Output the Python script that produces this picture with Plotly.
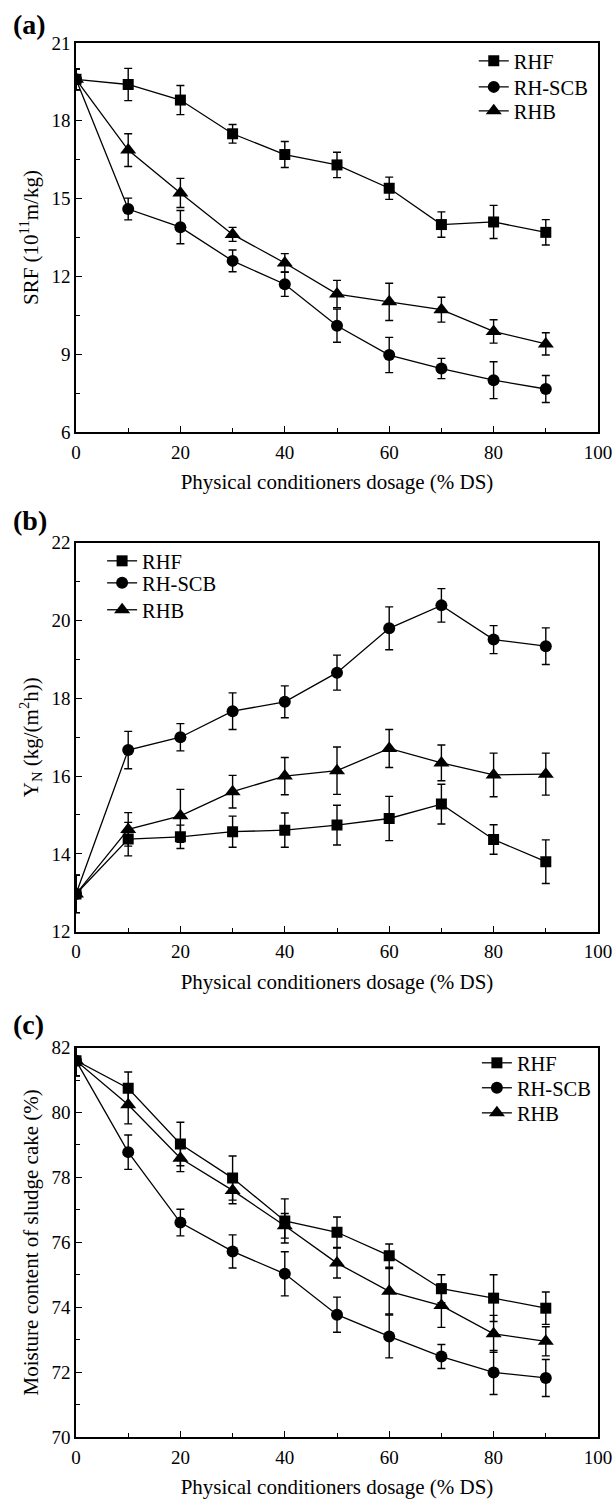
import plotly.graph_objects as go

dosage = [0, 10, 20, 30, 40, 50, 60, 70, 80, 90]
series_names = ["RHF", "RH-SCB", "RHB"]

# (a) SRF (10^11 m/kg)
srf_rhf = [19.6, 19.4, 18.8, 17.5, 16.7, 16.3, 15.4, 14.0, 14.1, 13.7]
srf_rhf_err = [0.4, 0.62, 0.56, 0.36, 0.5, 0.49, 0.43, 0.49, 0.64, 0.49]
srf_scb = [19.6, 14.6, 13.9, 12.6, 11.7, 10.1, 8.97, 8.45, 8.0, 7.66]
srf_scb_err = [0.4, 0.42, 0.64, 0.42, 0.47, 0.64, 0.68, 0.39, 0.71, 0.52]
srf_rhb = [19.6, 16.87, 15.22, 13.62, 12.52, 11.32, 11.02, 10.72, 9.88, 9.4]
srf_rhb_err = [0.4, 0.63, 0.56, 0.27, 0.36, 0.53, 0.72, 0.48, 0.45, 0.43]

# (b) Y_N (kg/(m2 h))
yn_rhf = [12.97, 14.38, 14.44, 14.57, 14.61, 14.74, 14.91, 15.28, 14.37, 13.8]
yn_rhf_err = [0.48, 0.43, 0.3, 0.4, 0.44, 0.51, 0.57, 0.51, 0.38, 0.56]
yn_scb = [12.97, 16.67, 17.0, 17.67, 17.91, 18.66, 19.8, 20.39, 19.51, 19.34]
yn_scb_err = [0.48, 0.48, 0.35, 0.47, 0.41, 0.45, 0.55, 0.43, 0.36, 0.47]
yn_rhb = [12.97, 14.63, 14.98, 15.6, 16.0, 16.14, 16.71, 16.34, 16.03, 16.05]
yn_rhb_err = [0.48, 0.43, 0.68, 0.42, 0.48, 0.61, 0.49, 0.46, 0.56, 0.54]

# (c) Moisture content of sludge cake (%)
mc_rhf = [81.6, 80.75, 79.03, 77.98, 76.66, 76.31, 75.59, 74.57, 74.28, 73.97]
mc_rhf_err = [0.47, 0.5, 0.67, 0.68, 0.68, 0.47, 0.36, 0.43, 0.72, 0.5]
mc_scb = [81.6, 78.78, 76.61, 75.72, 75.03, 73.77, 73.1, 72.48, 71.99, 71.82]
mc_scb_err = [0.47, 0.53, 0.41, 0.51, 0.68, 0.54, 0.66, 0.37, 0.68, 0.57]
mc_rhb = [81.6, 80.24, 78.59, 77.6, 76.51, 75.36, 74.49, 74.05, 73.18, 72.95]
mc_rhb_err = [0.47, 0.59, 0.41, 0.41, 0.38, 0.46, 0.7, 0.67, 0.57, 0.45]

x_title = "Physical conditioners dosage (% DS)"
panel_labels = ["(a)", "(b)", "(c)"]
y_titles = ["SRF (10<sup>11</sup>m/kg)", "Y<sub>N</sub> (kg/(m<sup>2</sup>h))",
            "Moisture content of sludge cake (%)"]

FONT = "Times New Roman, Liberation Serif, serif"
symbols = ["square", "circle", "triangle-up"]
msizes = [11, 12, 14]

panels = [
    ([srf_rhf, srf_scb, srf_rhb], [srf_rhf_err, srf_scb_err, srf_rhb_err], [6, 21], 3, 1.5),
    ([yn_rhf, yn_scb, yn_rhb], [yn_rhf_err, yn_scb_err, yn_rhb_err], [12, 22], 2, 1),
    ([mc_rhf, mc_scb, mc_rhb], [mc_rhf_err, mc_scb_err, mc_rhb_err], [70, 82], 2, 1),
]
domains = [[0.7209, 1.0], [0.3625, 0.6415], [0.0, 0.2793]]
# legend entry positions (paper coords): x of legend box, y centres of the three entries
legend_x = [0.762, 0.05, 0.768]
legend_y = [[0.9871, 0.9684, 0.9512],
            [0.6284, 0.6126, 0.5933],
            [0.2683, 0.2504, 0.2324]]
label_y = [1.0136, 0.6578, 0.2956]

fig = go.Figure()
layout = dict(
    width=616, height=1500,
    margin=dict(l=76, r=18, t=43, b=63),
    paper_bgcolor="white", plot_bgcolor="white",
    font=dict(family=FONT, size=19, color="black"),
    showlegend=True,
    annotations=[],
)

k = 0
for i, (vals, errs, yr, dt, mdt) in enumerate(panels):
    xa = "x" if i == 0 else f"x{i+1}"
    ya = "y" if i == 0 else f"y{i+1}"
    for j in range(3):
        lg = "legend" if k == 0 else f"legend{k+1}"
        fig.add_trace(go.Scatter(
            x=dosage, y=vals[j], name=series_names[j],
            mode="lines+markers",
            line=dict(color="black", width=1.3),
            marker=dict(symbol=symbols[j], size=msizes[j], color="black"),
            error_y=dict(type="data", array=errs[j], color="black", thickness=1.4, width=4),
            xaxis=xa, yaxis=ya, legend=lg, showlegend=True,
        ))
        layout[lg] = dict(
            x=legend_x[i], y=legend_y[i][j], xanchor="left", yanchor="middle",
            bgcolor="rgba(0,0,0,0)", borderwidth=0, visible=True,
            font=dict(size=20.5, family=FONT), itemwidth=30,
        )
        k += 1
    axkey = "xaxis" if i == 0 else f"xaxis{i+1}"
    aykey = "yaxis" if i == 0 else f"yaxis{i+1}"
    layout[axkey] = dict(
        domain=[0, 1], anchor=ya, range=[0, 100], dtick=20, tick0=0,
        ticks="inside", ticklen=6, tickwidth=1.3, tickcolor="black",
        minor=dict(dtick=10, ticks="inside", ticklen=4, tickwidth=1.3, tickcolor="black"),
        showline=True, linecolor="black", linewidth=1.5, mirror=True,
        showgrid=False, zeroline=False, automargin=False,
        tickfont=dict(size=19, family=FONT), ticklabelstandoff=2,
        title=dict(text=x_title, font=dict(size=21, family=FONT), standoff=13),
    )
    layout[aykey] = dict(
        domain=domains[i], anchor=xa, range=yr, dtick=dt, tick0=yr[0],
        ticks="inside", ticklen=6, tickwidth=1.3, tickcolor="black",
        minor=dict(dtick=mdt, ticks="inside", ticklen=4, tickwidth=1.3, tickcolor="black"),
        showline=True, linecolor="black", linewidth=1.5, mirror=True,
        showgrid=False, zeroline=False, automargin=False,
        tickfont=dict(size=19, family=FONT),
        title=dict(text=y_titles[i], font=dict(size=21, family=FONT), standoff=7),
    )
    layout["annotations"].append(dict(
        text="<b>" + panel_labels[i] + "</b>", xref="paper", yref="paper",
        x=-0.125, y=label_y[i], xanchor="left", yanchor="middle",
        showarrow=False, font=dict(size=28, family=FONT, color="black"),
    ))

fig.update_layout(**layout)
fig.write_html("out.html")
